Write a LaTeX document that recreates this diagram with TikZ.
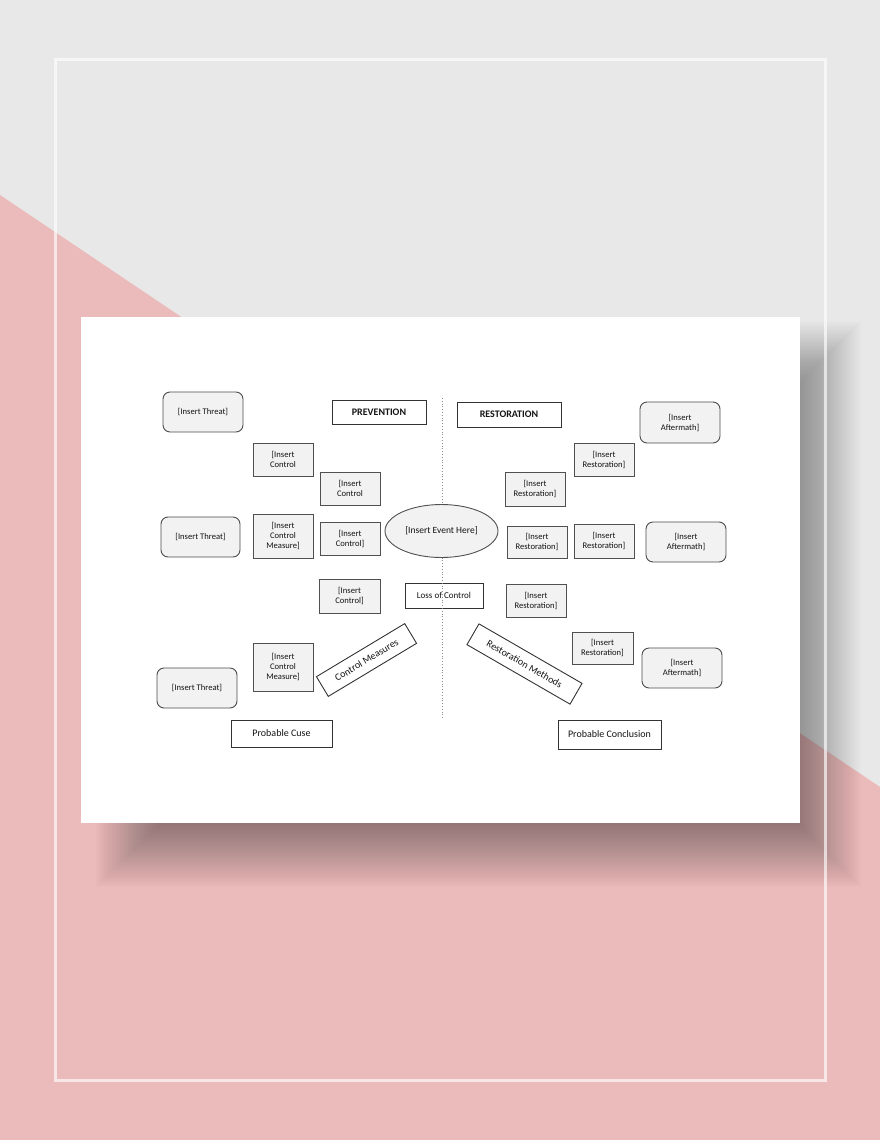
\documentclass[tikz,border=0pt]{standalone}
\usepackage{fontspec}
\setmainfont{Carlito}
\definecolor{bggray}{RGB}{232,232,232}
\definecolor{bgpink}{RGB}{235,187,187}
\definecolor{boxfill}{RGB}{242,242,242}
\definecolor{boxline}{RGB}{80,80,80}
\definecolor{txt}{RGB}{20,20,20}
\tikzset{
  graybox/.style={draw=boxline, line width=0.9pt, fill=boxfill, inner sep=0pt, align=center,
    font=\fontsize{8.6}{10}\selectfont, text=txt},
  roundbox/.style={graybox, draw=black!70, rounded corners=7pt},
  labelbox/.style={draw=black!80, line width=0.9pt, fill=white, inner sep=0pt, align=center,
    font=\fontsize{10}{12}\selectfont, text=txt},
  headbox/.style={labelbox, font=\fontsize{10}{12}\selectfont\bfseries},
  eventshape/.style={ellipse, draw=boxline, line width=0.9pt, fill=boxfill, inner sep=0pt,
    font=\fontsize{9.5}{11}\selectfont, text=txt},
  sz/.style n args={2}{minimum width=#1pt, minimum height=#2pt},
}
\usetikzlibrary{shapes.geometric}
\begin{document}
\begin{tikzpicture}[x=1pt,y=-1pt]
\useasboundingbox (0,0) rectangle (880,1140);
% background
\fill[bggray] (0,0) rectangle (880,1140);
\fill[bgpink] (0,195) -- (880,787) -- (880,1140) -- (0,1140) -- cycle;
% soft shadow of the card
\foreach \d in {-44,-42,...,44} {
  \fill[black, opacity=0.0115] ({140-\d},{365-\d}) rectangle ({817+\d},{843+\d});
}
% card
\fill[white] (81,317) rectangle (800,823);
% frame
\draw[white, opacity=0.65, line width=3pt] (55,60) rectangle (825,1080);

% left side
\node[roundbox, sz={80}{40}] (thr1) at (203,412) {[Insert Threat]};
\node[headbox, sz={94}{24}] (prev) at (379,412) {PREVENTION};
\node[graybox, sz={60}{33}] (cA) at (283,459.5) {[Insert\\Control};
\node[graybox, sz={60}{33}] (cB) at (350,488.5) {[Insert\\Control};
\node[roundbox, sz={79}{40}] (thr2) at (200.5,537) {[Insert Threat]};
\node[graybox, sz={60}{44}] (cm1) at (283,536) {[Insert\\Control\\Measure]};
\node[graybox, sz={60}{33}] (cC) at (350,538.5) {[Insert\\Control]};
\node[graybox, sz={61}{34}] (cD) at (349.5,596) {[Insert\\Control]};
\node[labelbox, sz={78}{25}, font=\fontsize{9}{11}\selectfont] (loss) at (444,595.5) {Loss of Control};
\node[graybox, sz={60}{48}] (cm2) at (283,667) {[Insert\\Control\\Measure]};
\node[labelbox, sz={103}{23}, rotate=31] (ctrlmeas) at (366.5,660) {Control Measures};
\node[roundbox, sz={80}{40}] (thr3) at (197,688) {[Insert Threat]};
\node[labelbox, sz={101}{27}] (pcause) at (281.5,733.5) {Probable Cuse};

% right side
\node[headbox, sz={104}{25}] (rest) at (509,414.5) {RESTORATION};
\node[roundbox, sz={80}{41}] (aft1) at (680,422.5) {[Insert\\Aftermath]};
\node[graybox, sz={60}{33}] (rA) at (604,459.5) {[Insert\\Restoration]};
\node[graybox, sz={60}{34}] (rB) at (535,489) {[Insert\\Restoration]};
\node[graybox, sz={60}{32}] (rC) at (537,542) {[Insert\\Restoration]};
\node[graybox, sz={60}{34}] (rD) at (604,541) {[Insert\\Restoration]};
\node[roundbox, sz={80}{40}] (aft2) at (686,542) {[Insert\\Aftermath]};
\node[graybox, sz={60}{33}] (rE) at (536,600.5) {[Insert\\Restoration]};
\node[labelbox, sz={119}{24}, rotate=-30] (restmeth) at (524.5,664) {Restoration Methods};
\node[graybox, sz={61}{32}] (rF) at (602.5,648) {[Insert\\Restoration]};
\node[roundbox, sz={80}{40}] (aft3) at (682,668) {[Insert\\Aftermath]};
\node[labelbox, sz={103}{29}] (pconc) at (609.5,734.5) {Probable Conclusion};

% dotted divider
\coordinate (ltop) at (442,398);
\coordinate (lbot) at (442,718);
\draw[dotted, line width=0.8pt, black!45] (ltop) -- (lbot);

% central event
\node[eventshape, sz={113}{53}] (event) at (441.5,531) {[Insert Event Here]};
\end{tikzpicture}
\end{document}
